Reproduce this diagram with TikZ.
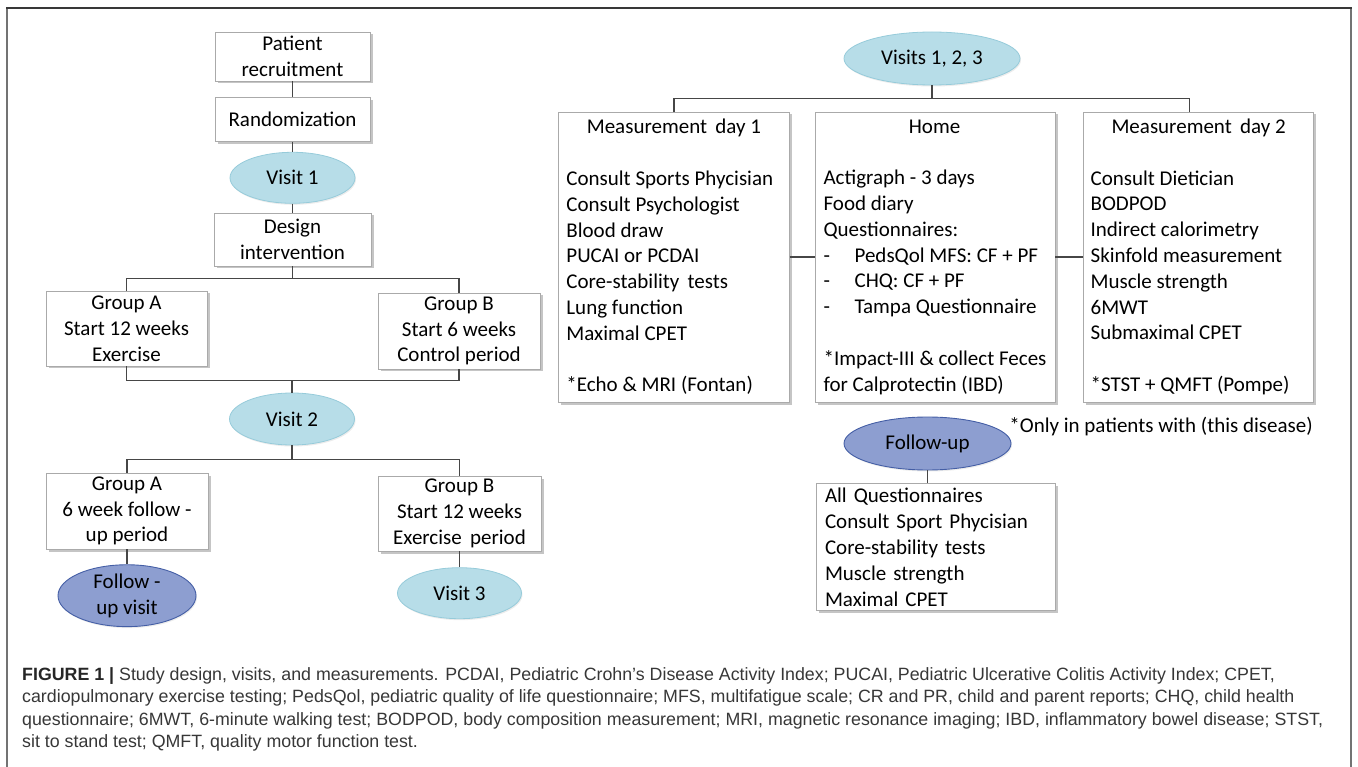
\documentclass[tikz,border=0pt]{standalone}
\usepackage{fontspec}
\setmainfont{Carlito}
\newfontfamily\captionfont{Liberation Sans}
\usepackage{tikz}
\usetikzlibrary{shapes.geometric,positioning,shadows,calc}
\definecolor{boxdraw}{RGB}{170,170,170}
\definecolor{visitfill}{RGB}{183,221,232}
\definecolor{visitdraw}{RGB}{150,203,218}
\definecolor{fufill}{RGB}{141,158,208}
\definecolor{fudraw}{RGB}{68,94,165}
\definecolor{linegray}{RGB}{70,70,70}
\definecolor{captext}{RGB}{55,55,55}

\begin{document}
\begin{tikzpicture}[x=1pt, y=-1pt, node distance=10pt, font=\fontsize{21}{25.8}\selectfont]
% Define
\tikzstyle{RECTANGLE_1} = [rectangle, draw=boxdraw, fill=white, line width=0.6pt, align=center, inner sep=0pt, drop shadow={shadow xshift=2.5pt, shadow yshift=-2.5pt, fill=black!45}]
\tikzstyle{RECTANGLE_2} = [rectangle, draw=boxdraw, fill=white, line width=0.6pt, align=left, inner sep=0pt, minimum height=290pt, drop shadow={shadow xshift=2.5pt, shadow yshift=-2.5pt, fill=black!45}]
\tikzstyle{ELLIPSE_1} = [ellipse, draw=visitdraw, fill=visitfill, line width=0.8pt, align=center, inner sep=0pt, drop shadow={shadow xshift=1pt, shadow yshift=-1.5pt, fill=black!15}]
\tikzstyle{ELLIPSE_2} = [ellipse, draw=fudraw, fill=fufill, line width=0.9pt, align=center, inner sep=0pt, drop shadow={shadow xshift=1pt, shadow yshift=-1.5pt, fill=black!15}]
\tikzstyle{LINE} = [draw, color=linegray, line width=1.2pt]
\useasboundingbox (0,0) rectangle (1358,767);
% Frame
\draw [black!55, line width=1.3pt] (7,767) -- (7,8);
\draw [black!55, line width=1.3pt] (1351,8) -- (1351,767);
\draw [black!78, line width=1.3pt] (6.35,8) -- (1351.65,8);
% Place nodes (study design)
\node [RECTANGLE_1, minimum width=155pt, minimum height=49pt] (patient) at (292.5,56.5) {Patient\\recruitment};
\node [RECTANGLE_1, minimum width=155pt, minimum height=44pt, below=16pt of patient] (rand) {Randomization};
\node [ELLIPSE_1, minimum width=125pt, minimum height=51pt, below=10pt of rand] (visit_1) {Visit 1};
\node [RECTANGLE_1, minimum width=157pt, minimum height=53pt, below=9pt of visit_1] (design) {Design\\intervention};
\node [RECTANGLE_1, minimum width=161pt, minimum height=75pt] (group_a) at (126.5,328.5) {Group A\\Start 12 weeks\\Exercise};
\node [RECTANGLE_1, minimum width=162pt, minimum height=76pt] (group_b) at (459,331) {Group B\\Start 6 weeks\\Control period};
\node [ELLIPSE_1, minimum width=125pt, minimum height=52pt] (visit_2) at (292,419) {Visit 2};
\node [RECTANGLE_1, minimum width=162pt, minimum height=76pt] (group_a2) at (127,511) {Group A\\6 week follow -\\up period};
\node [RECTANGLE_1, minimum width=163pt, minimum height=75pt] (group_b2) at (459.5,513.5) {Group B\\Start 12 weeks\\Exercise\, period};
\node [ELLIPSE_2, minimum width=138pt, minimum height=54pt, below=15pt of group_a2] (fu_visit) {Follow -\\up visit};
\node [ELLIPSE_1, minimum width=124pt, minimum height=51pt, below=16pt of group_b2] (visit_3) {Visit 3};
% Place nodes (measurements)
\node [ELLIPSE_1, minimum width=176pt, minimum height=53pt] (visits) at (932,58.5) {Visits 1, 2, 3};
\node [RECTANGLE_2, minimum width=240pt] (home) at (935,257) {\makebox[222pt]{Home}\\[25.8pt]
  Actigraph - 3 days\\
  Food diary\\
  Questionnaires:\\
  \makebox[31pt][l]{-}PedsQol MFS: CF + PF\\
  \makebox[31pt][l]{-}CHQ: CF + PF\\
  \makebox[31pt][l]{-}Tampa Questionnaire\\[25.8pt]
  *Impact-III \& collect Feces\\
  for Calprotectin (IBD)};
\node [RECTANGLE_2, minimum width=231pt, left=25pt of home] (day_1) {\makebox[215pt]{Measurement\, day 1}\\[25.8pt]
  Consult Sports Phycisian\\
  Consult Psychologist\\
  Blood draw\\
  PUCAI or PCDAI\\
  Core-stability\, tests\\
  Lung function\\
  Maximal CPET\\[25.8pt]
  *Echo \& MRI (Fontan)};
\node [RECTANGLE_2, minimum width=230pt, right=28pt of home] (day_2) {\makebox[216pt]{Measurement\, day 2}\\[25.8pt]
  Consult Dietician\\
  BODPOD\\
  Indirect calorimetry\\
  Skinfold measurement\\
  Muscle strength\\
  6MWT\\
  Submaximal CPET\\[25.8pt]
  *STST + QMFT (Pompe)};
\node [anchor=east, inner sep=0pt] (only_note) at (1313,427) {*Only in patients with (this disease)};
\node [ELLIPSE_2, minimum width=167pt, minimum height=53pt] (follow_up) at (927.5,443.5) {Follow-up};
\node [RECTANGLE_1, align=left, text width=221pt, minimum width=239pt, minimum height=127pt, below=13pt of follow_up, xshift=8pt] (fu_box) {All Questionnaires\\
  Consult Sport Phycisian\\
  Core-stability tests\\
  Muscle strength\\
  Maximal CPET};
% Caption
\node [anchor=north west, align=left, inner sep=0pt, text=captext, font=\captionfont\fontsize{17.8}{22.5}\selectfont] (caption) at (22,667) {{\color{black!85}\textbf{FIGURE 1 |}} Study design, visits, and measurements. PCDAI, Pediatric Crohn’s Disease Activity Index; PUCAI, Pediatric Ulcerative Colitis Activity Index; CPET,\\
cardiopulmonary exercise testing; PedsQol, pediatric quality of life questionnaire; MFS, multifatigue scale; CR and PR, child and parent reports; CHQ, child health\\
questionnaire; 6MWT, 6-minute walking test; BODPOD, body composition measurement; MRI, magnetic resonance imaging; IBD, inflammatory bowel disease; STST,\\
sit to stand test; QMFT, quality motor function test.};
% LINES
\path [LINE] (patient) -- (rand);
\path [LINE] (rand) -- (visit_1);
\path [LINE] (visit_1) -- (design);
\path [LINE] (design.south) -- ++(0,12) -| (group_a.north);
\path [LINE] (design.south) -- ++(0,12) -| (group_b.north);
\coordinate (join_1) at ($(visit_2.north)+(0,-12)$);
\path [LINE] (group_a.south) |- (join_1) -| (group_b.south);
\path [LINE] (join_1) -- (visit_2.north);
\path [LINE] (visit_2.south) -- ++(0,14) -| (group_a2.north);
\path [LINE] (visit_2.south) -- ++(0,14) -| (group_b2.north);
\path [LINE] (group_a2) -- (fu_visit);
\path [LINE] (group_b2) -- (visit_3);
\path [LINE] (visits.south) -- ++(0,13) -| (day_1.north);
\path [LINE] (visits.south) -- ++(0,13) -| ([xshift=-9pt]day_2.north);
\path [LINE] (day_1.east) -- (home.west);
\path [LINE] (home.east) -- (day_2.west);
\path [LINE] (follow_up.south) -- (follow_up.south |- fu_box.north);
\end{tikzpicture}
\end{document}
